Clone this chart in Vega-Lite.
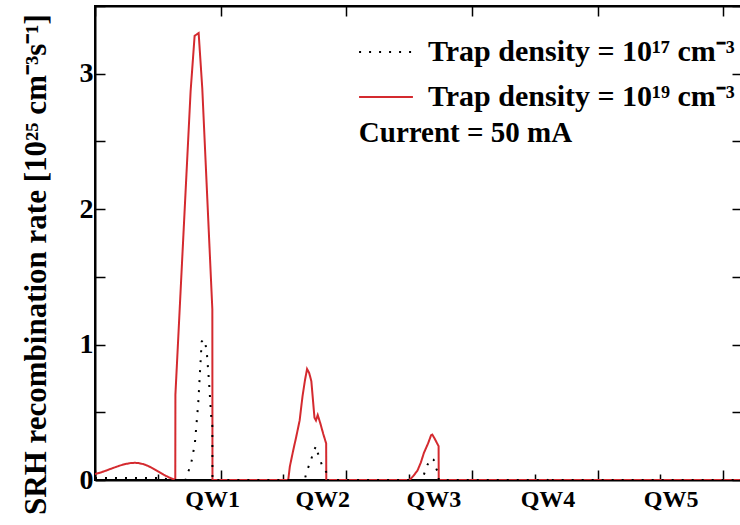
{
  "$schema": "https://vega.github.io/schema/vega-lite/v6.json",
  "width": 647,
  "height": 474,
  "autosize": {"type": "none"},
  "padding": {"left": 95, "top": 6, "right": 0, "bottom": 45},
  "background": "white",
  "config": {
    "view": {"stroke": "black", "strokeWidth": 2},
    "font": "Liberation Serif",
    "axis": {"zindex": 1, "domainColor": "black", "domainWidth": 2, "tickColor": "black", "tickWidth": 1.5, "grid": false, "labelFont": "Liberation Serif", "labelFontWeight": "bold", "labelColor": "black", "titleFont": "Liberation Serif", "titleFontWeight": "bold", "titleColor": "black"}
  },
  "datasets": {
    "srh": [
      {"s": "n19", "x": 0, "y": 0.045}, {"s": "n19", "x": 0.44, "y": 0.055}, {"s": "n19", "x": 0.84, "y": 0.068},
      {"s": "n19", "x": 1.24, "y": 0.082}, {"s": "n19", "x": 1.63, "y": 0.095}, {"s": "n19", "x": 2.03, "y": 0.108},
      {"s": "n19", "x": 2.43, "y": 0.118}, {"s": "n19", "x": 2.83, "y": 0.125}, {"s": "n19", "x": 3.15, "y": 0.127},
      {"s": "n19", "x": 3.47, "y": 0.125}, {"s": "n19", "x": 3.86, "y": 0.117}, {"s": "n19", "x": 4.26, "y": 0.102},
      {"s": "n19", "x": 4.66, "y": 0.083}, {"s": "n19", "x": 5.06, "y": 0.062}, {"s": "n19", "x": 5.46, "y": 0.04},
      {"s": "n19", "x": 5.86, "y": 0.02}, {"s": "n19", "x": 6.39, "y": 0}, {"s": "n19", "x": 6.4, "y": 0.63},
      {"s": "n19", "x": 7.61, "y": 2.87}, {"s": "n19", "x": 7.93, "y": 3.28}, {"s": "n19", "x": 8.25, "y": 3.3},
      {"s": "n19", "x": 8.54, "y": 2.89}, {"s": "n19", "x": 9.34, "y": 1.26}, {"s": "n19", "x": 9.35, "y": 0},
      {"s": "n19", "x": 15.38, "y": 0}, {"s": "n19", "x": 15.51, "y": 0.1}, {"s": "n19", "x": 15.78, "y": 0.22},
      {"s": "n19", "x": 16.02, "y": 0.32}, {"s": "n19", "x": 16.29, "y": 0.44}, {"s": "n19", "x": 16.52, "y": 0.62},
      {"s": "n19", "x": 16.72, "y": 0.74}, {"s": "n19", "x": 16.88, "y": 0.82}, {"s": "n19", "x": 17.05, "y": 0.79},
      {"s": "n19", "x": 17.22, "y": 0.73}, {"s": "n19", "x": 17.35, "y": 0.59}, {"s": "n19", "x": 17.47, "y": 0.46},
      {"s": "n19", "x": 17.59, "y": 0.44}, {"s": "n19", "x": 17.73, "y": 0.48}, {"s": "n19", "x": 17.93, "y": 0.42},
      {"s": "n19", "x": 18.17, "y": 0.34}, {"s": "n19", "x": 18.4, "y": 0.27}, {"s": "n19", "x": 18.41, "y": 0},
      {"s": "n19", "x": 24.98, "y": 0}, {"s": "n19", "x": 25.14, "y": 0.01}, {"s": "n19", "x": 25.34, "y": 0.03},
      {"s": "n19", "x": 25.67, "y": 0.07}, {"s": "n19", "x": 25.94, "y": 0.13}, {"s": "n19", "x": 26.18, "y": 0.2},
      {"s": "n19", "x": 26.51, "y": 0.27}, {"s": "n19", "x": 26.75, "y": 0.33}, {"s": "n19", "x": 26.85, "y": 0.335},
      {"s": "n19", "x": 27.01, "y": 0.31}, {"s": "n19", "x": 27.35, "y": 0.25}, {"s": "n19", "x": 27.36, "y": 0},
      {"s": "n19", "x": 51.5, "y": 0},
      {"s": "n17", "x": 0, "y": 0.015}, {"s": "n17", "x": 5.3, "y": 0.015}, {"s": "n17", "x": 6.0, "y": 0},
      {"s": "n17", "x": 7.2, "y": 0}, {"s": "n17", "x": 7.39, "y": 0.05}, {"s": "n17", "x": 7.67, "y": 0.13},
      {"s": "n17", "x": 7.95, "y": 0.27}, {"s": "n17", "x": 8.22, "y": 0.57}, {"s": "n17", "x": 8.49, "y": 1.02},
      {"s": "n17", "x": 8.61, "y": 1.04}, {"s": "n17", "x": 8.8, "y": 1.0}, {"s": "n17", "x": 8.91, "y": 0.93},
      {"s": "n17", "x": 9.08, "y": 0.72}, {"s": "n17", "x": 9.24, "y": 0.48}, {"s": "n17", "x": 9.34, "y": 0.4},
      {"s": "n17", "x": 9.35, "y": 0}, {"s": "n17", "x": 16.69, "y": 0}, {"s": "n17", "x": 16.84, "y": 0.06},
      {"s": "n17", "x": 17.17, "y": 0.14}, {"s": "n17", "x": 17.39, "y": 0.21}, {"s": "n17", "x": 17.59, "y": 0.25},
      {"s": "n17", "x": 17.73, "y": 0.2}, {"s": "n17", "x": 17.93, "y": 0.15}, {"s": "n17", "x": 18.09, "y": 0.1},
      {"s": "n17", "x": 18.4, "y": 0.06}, {"s": "n17", "x": 18.41, "y": 0}, {"s": "n17", "x": 25.94, "y": 0},
      {"s": "n17", "x": 26.18, "y": 0.04}, {"s": "n17", "x": 26.45, "y": 0.11}, {"s": "n17", "x": 26.75, "y": 0.16},
      {"s": "n17", "x": 26.95, "y": 0.15}, {"s": "n17", "x": 27.18, "y": 0.08}, {"s": "n17", "x": 27.35, "y": 0.05},
      {"s": "n17", "x": 27.36, "y": 0}, {"s": "n17", "x": 36.06, "y": 0}, {"s": "n17", "x": 36.22, "y": 0.03},
      {"s": "n17", "x": 36.37, "y": 0}, {"s": "n17", "x": 51.5, "y": 0}
    ],
    "wells": [
      {"name": "QW1", "x": 9.36}, {"name": "QW2", "x": 18.13}, {"name": "QW3", "x": 26.97},
      {"name": "QW4", "x": 36.06}, {"name": "QW5", "x": 45.86}
    ],
    "note": [{"text": "Current = 50 mA", "x": 21.0, "y": 2.56}]
  },
  "resolve": {"axis": {"x": "independent", "y": "independent"}},
  "layer": [
    {
      "data": {"name": "srh"},
      "mark": {"type": "line", "strokeWidth": 2, "clip": true},
      "encoding": {
        "x": {"field": "x", "type": "quantitative", "scale": {"domain": [0, 51.5], "nice": false},
          "axis": {"orient": "bottom", "values": [0, 5, 10, 15, 20, 25, 30, 35, 40, 45, 50], "labels": false, "title": null,
            "tickSize": {"condition": {"test": "datum.value % 10 === 0", "value": -10}, "value": -6}}},
        "y": {"field": "y", "type": "quantitative", "scale": {"domain": [0, 3.5], "nice": false},
          "axis": {"orient": "left", "values": [0, 0.5, 1, 1.5, 2, 2.5, 3, 3.5], "tickSize": -10, "labelPadding": 12,
            "labelExpr": "datum.value % 1 === 0 ? format(datum.value, 'd') : ''", "labelFontSize": 28,
            "title": "SRH recombination rate [10²⁵ cm⁻³s⁻¹]", "titleFontSize": 31, "titleAngle": -90,
            "titleX": -50, "titleY": 258, "titleAlign": "center", "titleBaseline": "alphabetic"}},
        "color": {"field": "s", "type": "nominal",
          "scale": {"domain": ["n17", "n19"], "range": ["black", "#d42a2f"]},
          "legend": {"orient": "none", "legendX": 263, "legendY": 18, "title": null, "symbolType": "stroke",
            "symbolSize": 2900, "symbolStrokeWidth": 2, "labelFont": "Liberation Serif", "labelFontWeight": "bold",
            "labelFontSize": 30, "labelColor": "black", "labelOffset": 14, "rowPadding": 2, "labelLimit": 0, "padding": 0,
            "labelExpr": "datum.value === 'n17' ? 'Trap density = 10¹⁷ cm⁻³' : 'Trap density = 10¹⁹ cm⁻³'"}},
        "strokeDash": {"field": "s", "type": "nominal",
          "scale": {"domain": ["n17", "n19"], "range": [[2, 8], [1, 0]]},
          "legend": {"orient": "none", "legendX": 263, "legendY": 18, "title": null, "symbolType": "stroke",
            "symbolSize": 2900, "symbolStrokeWidth": 2, "labelFont": "Liberation Serif", "labelFontWeight": "bold",
            "labelFontSize": 30, "labelColor": "black", "labelOffset": 14, "rowPadding": 2, "labelLimit": 0, "padding": 0,
            "labelExpr": "datum.value === 'n17' ? 'Trap density = 10¹⁷ cm⁻³' : 'Trap density = 10¹⁹ cm⁻³'"}}
      }
    },
    {
      "data": {"name": "srh"},
      "mark": {"type": "point", "opacity": 0},
      "encoding": {
        "x": {"field": "x", "type": "quantitative",
          "axis": {"orient": "top", "values": [0, 10, 20, 30, 40, 50], "labels": false, "title": null, "tickSize": -10}},
        "y": {"field": "y", "type": "quantitative",
          "axis": {"orient": "right", "values": [0, 0.5, 1, 1.5, 2, 2.5, 3, 3.5], "labels": false, "title": null, "tickSize": -10}}
      }
    },
    {
      "data": {"name": "wells"},
      "mark": {"type": "text", "font": "Liberation Serif", "fontWeight": "bold", "fontSize": 24, "baseline": "middle", "align": "center"},
      "encoding": {
        "x": {"field": "x", "type": "quantitative", "axis": null},
        "y": {"datum": -0.145, "axis": null},
        "text": {"field": "name"}
      }
    },
    {
      "data": {"name": "note"},
      "mark": {"type": "text", "font": "Liberation Serif", "fontWeight": "bold", "fontSize": 29, "baseline": "middle", "align": "left"},
      "encoding": {
        "x": {"field": "x", "type": "quantitative", "axis": null},
        "y": {"field": "y", "type": "quantitative", "axis": null},
        "text": {"field": "text"}
      }
    }
  ]
}
